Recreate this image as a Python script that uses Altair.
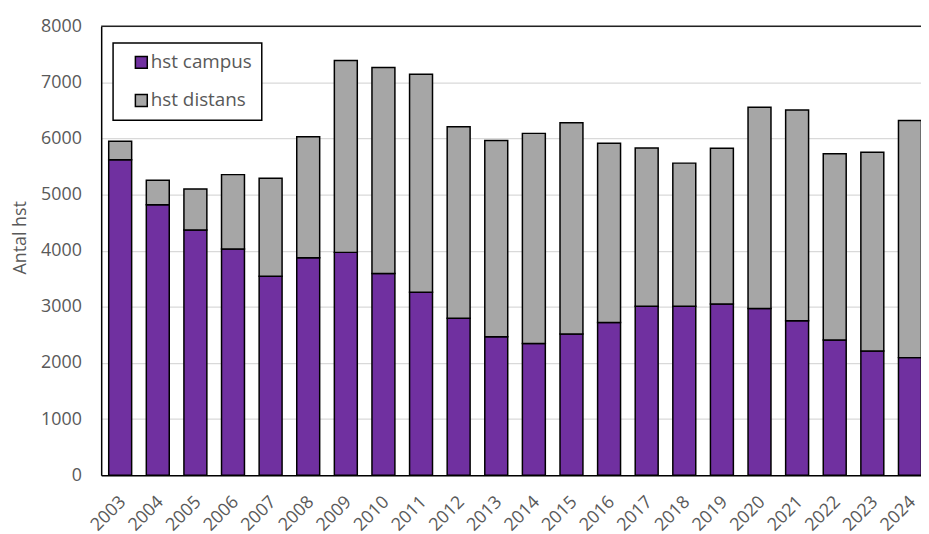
import altair as alt
import pandas as pd

years = [str(y) for y in range(2003, 2025)]
campus = [5620, 4820, 4370, 4030, 3545, 3875, 3970, 3595, 3260, 2795, 2465,
          2345, 2515, 2720, 3010, 3010, 3050, 2970, 2750, 2410, 2215, 2095]
total = [5950, 5255, 5100, 5355, 5290, 6030, 7390, 7265, 7145, 6210, 5965,
         6090, 6280, 5915, 5830, 5560, 5825, 6555, 6505, 5725, 5755, 6320]
distans = [t - c for t, c in zip(total, campus)]
series = ["hst campus", "hst distans"]
colors = ["#7030A0", "#A6A6A6"]
y_ticks = list(range(0, 8001, 1000))

rows = []
for i, y in enumerate(years):
    rows.append({"year": y, "serie": series[0], "value": campus[i], "ord": 0})
    rows.append({"year": y, "serie": series[1], "value": distans[i], "ord": 1})
df = pd.DataFrame(rows)

FONT = "Open Sans"
TXT = "#595959"

bars = alt.Chart(df).mark_bar(stroke="black", strokeWidth=1.5).encode(
    x=alt.X("year:N", sort=years, title=None,
            scale=alt.Scale(range=[0, 835], paddingInner=0.39, paddingOuter=0.2),
            axis=alt.Axis(labelAngle=-45, labelAlign="right", labelBaseline="middle",
                          labelPadding=24, labelOffset=3, ticks=False,
                          domainColor="black", domainWidth=1.5)),
    y=alt.Y("value:Q", stack="zero", title="Antal hst",
            scale=alt.Scale(domain=[0, 8000], nice=False),
            axis=alt.Axis(values=y_ticks, format="d", ticks=False, labelPadding=20,
                          domainColor="black", domainWidth=1.5,
                          gridColor="#D9D9D9", gridWidth=1.3,
                          titleAngle=270, titleX=-81, titleY=213,
                          titleAlign="center", titleBaseline="middle",
                          titleFontWeight="normal")),
    color=alt.Color("serie:N", title=None,
                    scale=alt.Scale(domain=series, range=colors),
                    legend=alt.Legend(orient="none", legendX=12, legendY=17,
                                      symbolType="square", symbolSize=144,
                                      symbolStrokeColor="black", symbolStrokeWidth=1.5,
                                      strokeColor="black", fillColor="white",
                                      padding=10, rowPadding=18.5, symbolOffset=9,
                                      labelOffset=0)),
    order=alt.Order("ord:Q"),
)

top = alt.Chart(pd.DataFrame({"a": [0]})).mark_rule(color="#222222", strokeWidth=1.5).encode(
    x=alt.value(0), x2=alt.value(835), y=alt.value(0)
)

chart = alt.layer(bars, top).properties(
    width=827, height=453,
    autosize=alt.AutoSizeParams(type="none"),
    padding={"left": 94, "top": 16, "right": 0, "bottom": 60},
).configure_view(stroke=None).configure_axis(
    labelFont=FONT, labelFontSize=18, labelColor=TXT,
    titleFont=FONT, titleFontSize=18, titleColor=TXT,
).configure_legend(
    labelFont=FONT, labelFontSize=19, labelColor=TXT, strokeWidth=1.5,
    labelBaseline="middle",
)

chart.save("out.html", embed_options={"renderer": "svg", "actions": False})
